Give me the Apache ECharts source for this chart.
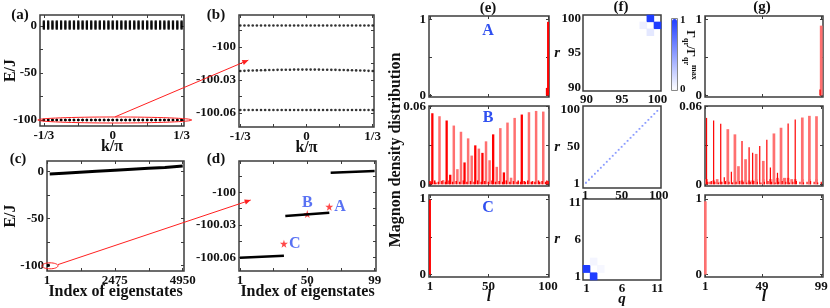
<!DOCTYPE html>
<html><head><meta charset="utf-8">
<script src="https://cdn.jsdelivr.net/npm/echarts@6/dist/echarts.min.js"></script>
<style>html,body{margin:0;padding:0;background:#fff}#c{width:830px;height:308px}</style>
</head><body><div id="c"></div>
<script>
// ---------------- DATA ----------------
const kVals = [-0.3333,-0.3125,-0.2917,-0.2708,-0.2500,-0.2292,-0.2083,-0.1875,-0.1667,-0.1458,-0.1250,-0.1042,-0.0833,-0.0625,-0.0417,-0.0208,0,0.0208,0.0417,0.0625,0.0833,0.1042,0.1250,0.1458,0.1667,0.1875,0.2083,0.2292,0.2500,0.2708,0.2917,0.3125,0.3333];
const contLevels = [-3,-2,-1,0,1,2,3,4,5];
const bandTop = [-99.9806,-99.9806,-99.9806,-99.9806,-99.9806,-99.9806,-99.9806,-99.9806,-99.9806,-99.9806,-99.9806,-99.9806,-99.9806,-99.9806,-99.9806,-99.9806,-99.9806,-99.9806,-99.9806,-99.9806,-99.9806,-99.9806,-99.9806,-99.9806,-99.9806,-99.9806,-99.9806,-99.9806,-99.9806,-99.9806,-99.9806,-99.9806,-99.9806];
const bandMid = [-100.0218,-100.0217,-100.0215,-100.0214,-100.0213,-100.0212,-100.0211,-100.0210,-100.0209,-100.0208,-100.0208,-100.0207,-100.0207,-100.0206,-100.0206,-100.0206,-100.0206,-100.0206,-100.0206,-100.0206,-100.0207,-100.0207,-100.0208,-100.0208,-100.0209,-100.0210,-100.0211,-100.0212,-100.0213,-100.0214,-100.0215,-100.0217,-100.0218];
const bandBot = [-100.0573,-100.0573,-100.0573,-100.0573,-100.0573,-100.0573,-100.0573,-100.0573,-100.0573,-100.0573,-100.0573,-100.0573,-100.0573,-100.0573,-100.0573,-100.0573,-100.0573,-100.0573,-100.0573,-100.0573,-100.0573,-100.0573,-100.0573,-100.0573,-100.0573,-100.0573,-100.0573,-100.0573,-100.0573,-100.0573,-100.0573,-100.0573,-100.0573];

const cIdx = [100, 600, 1200, 1800, 2475, 3100, 3700, 4300, 4950];
const cE   = [-2.8, -1.9, -0.9, 0.1, 1.2, 2.2, 3.2, 4.2, 5.6];
const cBoundIdx = [1, 99];
const cBoundE = [-100.06, -99.98];

const dBotIdx = [1, 33],  dBotE = [-100.0604, -100.0585];
const dMidIdx = [34, 66], dMidE = [-100.0219, -100.0188];
const dTopIdx = [67, 99], dTopE = [-99.9819, -99.9803];
const dStarIdx = [66, 50, 33];
const dStarE = [-100.0133, -100.0200, -100.0475];
const dStarNames = ['A', 'B', 'C'];

// (e) magnon density, l = 1..100
const eARed = [[99,0.10],[100,0.97]];
const eBRed = [[3,0.0549],[15,0.0493],[18,0.0074],[30,0.0169],[39,0.0301],[45,0.0243],[54,0.0386],[63,0.0092],[78,0.0539]];
const eBPink = [[9,0.0526],[12,0.0033],[21,0.0454],[24,0.0117],[27,0.0406],[33,0.0355],[36,0.0222],[42,0.0276],[48,0.0332],[51,0.0186],[57,0.0135],[60,0.0434],[66,0.0477],[69,0.0051],[72,0.0513],[84,0.0557],[90,0.0567],[96,0.0562]];
const eBSmall = [[1,0.0025],[2,0.002],[5,0.003],[6,0.0015],[8,0.002],[11,0.0025],[14,0.002],[17,0.003],[20,0.002],[23,0.0025],[26,0.002],[29,0.003],[32,0.002],[35,0.0025],[38,0.002],[41,0.003],[44,0.002],[47,0.0025],[50,0.002],[53,0.003],[56,0.002],[59,0.0025],[62,0.002],[65,0.003],[68,0.002],[71,0.0025],[74,0.002],[75,0.003],[77,0.002],[80,0.0025],[81,0.002],[83,0.003],[86,0.002],[87,0.0025],[89,0.002],[92,0.003],[93,0.002],[95,0.0025],[98,0.002],[99,0.003],[100,0.0025]];
const eCRed = [[1,0.99]];

// (g) magnon density, l = 1..99
const gARed = [[98,0.08]];
const gAPink = [[99,0.92]];
const gBRed = [[2,0.0513],[8,0.0493],[14,0.0467],[17,0.0054],[23,0.0097],[32,0.0334],[38,0.0286],[41,0.0243],[47,0.0296],[53,0.0345],[56,0.013],[62,0.0089],[71,0.047],[77,0.050]];
const gBPink = [[20,0.0426],[26,0.0386],[29,0.014],[35,0.0194],[44,0.0235],[50,0.0181],[59,0.0393],[65,0.0437],[68,0.0049],[83,0.0516],[89,0.0529],[95,0.0526]];
const gBSmallPink = [[2,0.004],[5,0.002],[8,0.003],[11,0.004],[14,0.002],[20,0.003],[26,0.003],[32,0.003],[38,0.003],[41,0.003],[44,0.004],[50,0.004],[56,0.004],[59,0.004],[62,0.005],[65,0.004],[68,0.005],[71,0.005],[74,0.004],[77,0.004],[83,0.004],[89,0.004],[95,0.004]];
const gBSmallRed = [[3,0.002],[6,0.0025],[9,0.002],[12,0.0015],[15,0.002],[18,0.0025],[21,0.002],[24,0.0015],[27,0.002],[30,0.0025],[33,0.002],[36,0.0015],[39,0.002],[42,0.0025],[45,0.002],[48,0.0015],[51,0.002],[54,0.0025],[57,0.002],[60,0.0015],[63,0.002],[66,0.0025],[69,0.002],[72,0.0015],[75,0.002],[78,0.0025],[81,0.002],[84,0.0015],[87,0.002],[90,0.0025],[93,0.002],[96,0.0015],[99,0.002]];
const gCPink = [[1,0.97]];

// (f) pair correlation Gamma_qr / Gamma_max
const f1Cats = ['90','91','92','93','94','95','96','97','98','99','100'];
const f1Q = [99, 100, 98, 99];
const f1R = [100, 99, 99, 98];
const f1V = [1.0, 1.0, 0.08, 0.12];
const f2Diag = [2,6,10,14,18,22,26,30,34,38,42,46,50,54,58,62,66,70,74,78,82,86,90,94,98];
const f3Cats = ['1','2','3','4','5','6','7','8','9','10','11'];
const f3Q = [1, 2, 2, 3];
const f3R = [2, 1, 3, 2];
const f3V = [1.0, 1.0, 0.05, 0.04];

// ---------------- BUILD ----------------
const FONT = 'Liberation Serif';
const INK = '#3c3c3c';
const RED = '#ff0000', PINK = '#ff7070', BLUE = '#2f4ff0';
const lab = {fontFamily: FONT, fontWeight: 'bold', fontSize: 13, color: '#111'};
const nameStyle = {fontFamily: FONT, fontWeight: 'bold', fontSize: 16, color: '#111'};
const grids = [], xAxes = [], yAxes = [], series = [];

function grid(l, t, w, h) {
  grids.push({left: l, top: t, width: w, height: h, show: true, borderColor: INK, borderWidth: 1.5,
    backgroundColor: '#fff', containLabel: false, outerBoundsMode: 'none'});
  return grids.length - 1;
}
function valAxis(list, gi, pos, min, max, ticks, labels, fmt, extra) {
  const ax = {
    type: 'value', gridIndex: gi, position: pos, min: min, max: max, nameMoveOverlap: false,
    axisLine: {show: false, onZero: false},
    axisTick: {show: ticks.length > 0, inside: true, length: 3, customValues: ticks, lineStyle: {color: INK, width: 1}},
    axisLabel: Object.assign({show: labels.length > 0, customValues: labels, formatter: fmt, margin: 3}, lab),
    splitLine: {show: false}
  };
  Object.assign(ax, extra || {});
  list.push(ax);
  return list.length - 1;
}
function mirror(list, gi, pos, min, max, ticks) {
  return valAxis(list, gi, pos, min, max, ticks, [], null);
}
const fmtK = v => Math.abs(v) < 1e-9 ? '0' : (v < 0 ? '-1/3' : '1/3');
const fmtInt = v => String(Math.round(v));
const fmtE = v => Math.abs(v + 100) < 1e-9 ? '-100' : v.toFixed(2);
const fmt06 = v => v === 0 ? '0' : '0.06';
const kTicks = [-1/3, -1/6, 0, 1/6, 1/3], kLabels = [-1/3, 0, 1/3];
const eTicks = [-100.06, -100.045, -100.03, -100.015, -100, -99.985], eLabels = [-100.06, -100.03, -100];
const bigTicks = [-100, -75, -50, -25, 0];

// (a)
const ga = grid(40, 15, 144, 111);
const xa = valAxis(xAxes, ga, 'bottom', -0.352, 0.345, kTicks, kLabels, fmtK,
  {name: 'k/π', nameLocation: 'middle', nameGap: 13, nameTextStyle: nameStyle});
const ya = valAxis(yAxes, ga, 'left', -106.4, 11.7, bigTicks, [-100, -50, 0], fmtInt,
  {name: 'E/J', nameLocation: 'middle', nameGap: 21, nameTextStyle: nameStyle});
mirror(xAxes, ga, 'top', -0.352, 0.345, kTicks);
mirror(yAxes, ga, 'right', -106.4, 11.7, bigTicks);
const contData = [];
kVals.forEach(k => contLevels.forEach(e => contData.push([k, e])));
series.push({type: 'scatter', xAxisIndex: xa, yAxisIndex: ya, data: contData, symbol: 'rect', symbolSize: [2.2, 2], itemStyle: {color: '#000'}, silent: true});
[bandTop, bandMid, bandBot].forEach(b => series.push({type: 'scatter', xAxisIndex: xa, yAxisIndex: ya, data: kVals.map((k, i) => [k, b[i]]), symbolSize: 2.6, itemStyle: {color: '#000'}, silent: true}));

// (b)
const gb = grid(239, 15, 135, 112);
const xb = valAxis(xAxes, gb, 'bottom', -0.34, 0.34, kTicks, kLabels, fmtK,
  {name: 'k/π', nameLocation: 'middle', nameGap: 13, nameTextStyle: nameStyle});
const yb = valAxis(yAxes, gb, 'left', -100.0727, -99.971, eTicks, eLabels, fmtE);
mirror(xAxes, gb, 'top', -0.34, 0.34, kTicks);
mirror(yAxes, gb, 'right', -100.0727, -99.971, eTicks);
[bandTop, bandMid, bandBot].forEach(b => series.push({type: 'scatter', xAxisIndex: xb, yAxisIndex: yb, data: kVals.map((k, i) => [k, b[i]]), symbolSize: 2.6, itemStyle: {color: '#000'}, silent: true}));

// (c)
const gc = grid(47, 161, 137, 110);
const xc = valAxis(xAxes, gc, 'bottom', 1, 4997, [1, 1238, 2475, 3713, 4950], [1, 2475, 4950], fmtInt,
  {name: 'Index of eigenstates', nameLocation: 'middle', nameGap: 13, nameTextStyle: nameStyle});
const yc = valAxis(yAxes, gc, 'left', -106, 11, bigTicks, [-100, -50, 0], fmtInt,
  {name: 'E/J', nameLocation: 'middle', nameGap: 28, nameTextStyle: nameStyle});
mirror(xAxes, gc, 'top', 1, 4997, [1, 1238, 2475, 3713, 4950]);
mirror(yAxes, gc, 'right', -106, 11, bigTicks);
series.push({type: 'line', xAxisIndex: xc, yAxisIndex: yc, data: cIdx.map((x, i) => [x, cE[i]]), showSymbol: false, lineStyle: {color: '#000', width: 3}, silent: true});
series.push({type: 'line', xAxisIndex: xc, yAxisIndex: yc, data: cBoundIdx.map((x, i) => [x, cBoundE[i]]), showSymbol: false, lineStyle: {color: '#000', width: 3}, silent: true});

// (d)
const gd = grid(239, 161, 137, 110);
const xd = valAxis(xAxes, gd, 'bottom', 0.3, 100, [1, 25, 50, 75, 99], [1, 50, 99], fmtInt,
  {name: 'Index of eigenstates', nameLocation: 'middle', nameGap: 13, nameTextStyle: nameStyle});
const yd = valAxis(yAxes, gd, 'left', -100.0727, -99.971, eTicks, eLabels, fmtE);
mirror(xAxes, gd, 'top', 0.3, 100, [1, 25, 50, 75, 99]);
mirror(yAxes, gd, 'right', -100.0727, -99.971, eTicks);
[[dBotIdx, dBotE], [dMidIdx, dMidE], [dTopIdx, dTopE]].forEach(([xs, ys]) =>
  series.push({type: 'line', xAxisIndex: xd, yAxisIndex: yd, data: xs.map((x, i) => [x, ys[i]]), showSymbol: false, lineStyle: {color: '#000', width: 2.5}, silent: true}));
const STAR = 'path://M50,0 L61,35 L98,35 L68,57 L79,91 L50,70 L21,91 L32,57 L2,35 L39,35 Z';
const starLabel = {show: true, formatter: '{b}', fontFamily: FONT, fontWeight: 'bold', fontSize: 16, color: BLUE};
series.push({type: 'scatter', xAxisIndex: xd, yAxisIndex: yd, symbol: STAR, symbolSize: 8, itemStyle: {color: '#ff1a1a'}, silent: true,
  data: dStarIdx.map((x, i) => ({name: dStarNames[i], value: [x, dStarE[i]],
    label: Object.assign({}, starLabel, i === 1 ? {position: 'top', distance: -1} : {position: 'right', distance: 1})}))});

// (e) and (g) bar panels: bars drawn as thin rectangles via custom series on the panel's own axes
function barSeries(xi, yi, data, w, color) {
  series.push({type: 'custom', xAxisIndex: xi, yAxisIndex: yi, silent: true, data: data, z: 3, clip: false,
    renderItem: (params, api) => {
      const top = api.coord([api.value(0), api.value(1)]);
      const base = api.coord([api.value(0), 0]);
      return {type: 'rect', shape: {x: top[0] - w / 2, y: top[1], width: w, height: base[1] - top[1]}, style: {fill: color}};
    }});
}
function barPanel(left, width, xmin, xmax, xTicks, top, height, ymin, ymax, yTicks, yLabels, yFmt, bars, showX) {
  const g = grid(left, top, width, height);
  const xi = valAxis(xAxes, g, 'bottom', xmin, xmax, xTicks, showX ? xTicks : [], fmtInt,
    showX ? {name: 'l', nameLocation: 'middle', nameGap: 12, nameTextStyle: Object.assign({}, nameStyle, {fontStyle: 'italic'})} : {});
  const yi = valAxis(yAxes, g, 'left', ymin, ymax, yTicks, yLabels, yFmt);
  mirror(xAxes, g, 'top', xmin, xmax, xTicks);
  mirror(yAxes, g, 'right', ymin, ymax, yTicks);
  bars.forEach(b => barSeries(xi, yi, b.data, b.w, b.c));
}
const fmtTop = v => v === 0 ? '0' : '1';
barPanel(429, 120, 0.2, 100.8, [1, 50, 100], 16, 81, -0.02, 1.047, [0, 0.5, 1], [0, 1], fmtTop,
  [{data: eARed, w: 2, c: RED}], false);
barPanel(429, 120, 0.2, 100.8, [1, 50, 100], 106, 80, -0.0013, 0.0605, [0, 0.03, 0.06], [0, 0.06], fmt06,
  [{data: eBPink, w: 2.5, c: PINK}, {data: eBRed, w: 2.3, c: RED}, {data: eBSmall, w: 1.5, c: RED}], false);
barPanel(429, 120, 0.2, 100.8, [1, 50, 100], 195, 82, -0.032, 1.053, [0, 0.5, 1], [0, 1], fmtTop,
  [{data: eCRed, w: 2, c: RED}], true);

barPanel(705, 118, 0.7, 100.5, [1, 49, 99], 16, 81, -0.02, 1.047, [0, 0.5, 1], [0, 1], fmtTop,
  [{data: gAPink, w: 2.8, c: PINK}, {data: gARed, w: 1.3, c: RED}], false);
barPanel(705, 118, 0.7, 100.5, [1, 49, 99], 106, 80, -0.0013, 0.0605, [0, 0.03, 0.06], [0, 0.06], fmt06,
  [{data: gBPink, w: 2.7, c: PINK}, {data: gBSmallPink, w: 2.7, c: PINK}, {data: gBRed, w: 1.2, c: RED}, {data: gBSmallRed, w: 1.2, c: RED}], false);
barPanel(705, 118, 0.7, 100.5, [1, 49, 99], 195, 82, -0.032, 1.053, [0, 0.5, 1], [0, 1], fmtTop,
  [{data: gCPink, w: 2.6, c: PINK}], true);

// (f) heatmaps
function catAxis(list, gi, pos, cats, extra) {
  const ax = {type: 'category', gridIndex: gi, position: pos, data: cats, nameMoveOverlap: false,
    axisLine: {show: false, onZero: false}, axisTick: {show: false},
    axisLabel: Object.assign({interval: 4, margin: 2}, lab), splitLine: {show: false}};
  Object.assign(ax, extra || {});
  list.push(ax);
  return list.length - 1;
}
const rName = {name: 'r', nameLocation: 'middle', nameGap: 23, nameRotate: 0, nameTextStyle: Object.assign({}, nameStyle, {fontStyle: 'italic', fontSize: 15})};
const gf1 = grid(583, 15, 78, 76);
const xf1 = catAxis(xAxes, gf1, 'bottom', f1Cats);
const yf1 = catAxis(yAxes, gf1, 'left', f1Cats, rName);
const hm1 = series.length;
series.push({type: 'heatmap', xAxisIndex: xf1, yAxisIndex: yf1, silent: true,
  data: f1Q.map((q, i) => [f1Cats.indexOf(String(q)), f1Cats.indexOf(String(f1R[i])), f1V[i]])});

const gf2 = grid(583, 106, 78, 82);
const xf2 = valAxis(xAxes, gf2, 'bottom', -2, 103, [], [1, 50, 100], fmtInt, {axisLabel: Object.assign({customValues: [1, 50, 100], formatter: fmtInt, margin: 1}, lab)});
const yf2 = valAxis(yAxes, gf2, 'left', -5, 104.5, [], [1, 50, 100], fmtInt, rName);
series.push({type: 'scatter', xAxisIndex: xf2, yAxisIndex: yf2, symbol: 'rect', symbolSize: 1.8, itemStyle: {color: '#6d82ff'}, silent: true,
  data: f2Diag.map(v => [v, v])});

const gf3 = grid(583, 199, 78, 81);
const xf3 = catAxis(xAxes, gf3, 'bottom', f3Cats, {name: 'q', nameLocation: 'middle', nameGap: 12, nameTextStyle: Object.assign({}, nameStyle, {fontStyle: 'italic', fontSize: 15})});
const yf3 = catAxis(yAxes, gf3, 'left', f3Cats, rName);
const hm3 = series.length;
series.push({type: 'heatmap', xAxisIndex: xf3, yAxisIndex: yf3, silent: true,
  data: f3Q.map((q, i) => [f3Cats.indexOf(String(q)), f3Cats.indexOf(String(f3R[i])), f3V[i]])});

const option = {
  animation: false,
  backgroundColor: '#fff',
  grid: grids, xAxis: xAxes, yAxis: yAxes, series: series,
  visualMap: [{type: 'continuous', min: 0, max: 1, seriesIndex: [hm1, hm3], calculable: false, show: true,
    orient: 'vertical', left: 672, top: 19, itemWidth: 5, itemHeight: 71, padding: 0, text: null, showLabel: false,
    inRange: {color: ['#ffffff', '#1f3dff']}}]
};
const chart = echarts.init(document.getElementById('c'), null, {renderer: 'canvas'});
chart.setOption(option);

// ---------------- ANNOTATIONS ----------------
const P = (xi, yi, pt) => chart.convertToPixel({xAxisIndex: xi, yAxisIndex: yi}, pt);
function arrow(p0, p1) {
  const ang = Math.atan2(p1[1] - p0[1], p1[0] - p0[0]);
  const L = 6, W = 2.6;
  const bx = p1[0] - L * Math.cos(ang), by = p1[1] - L * Math.sin(ang);
  const nx = -Math.sin(ang) * W, ny = Math.cos(ang) * W;
  return [
    {type: 'line', shape: {x1: p0[0], y1: p0[1], x2: p1[0], y2: p1[1]}, style: {stroke: '#ff2020', lineWidth: 1}, z: 100},
    {type: 'polygon', shape: {points: [[p1[0], p1[1]], [bx + nx, by + ny], [bx - nx, by - ny]]}, style: {fill: '#ff2020'}, z: 100}
  ];
}
const aCtr = P(xa, ya, [0.01, -100]);
const aStart = P(xa, ya, [0.01, -96.8]);
const bTip = P(xb, yb, [-0.293, -100.012]);
const cCtr = P(xc, yc, [110, -100.5]);
const cStart = P(xc, yc, [401, -99.2]);
const dTip = P(xd, yd, [8.8, -100.0071]);
const T = (x, y, text, size, extra) => Object.assign({type: 'text', x: x, y: y, z: 120,
  style: {text: text, font: 'bold ' + size + 'px "' + FONT + '"', fill: '#111', align: 'center', verticalAlign: 'middle'}}, extra || {});
const gfx = [
  {type: 'ellipse', shape: {cx: aCtr[0], cy: aCtr[1], rx: 77, ry: 3}, style: {fill: 'none', stroke: '#ff2020', lineWidth: 1}, z: 100},
  {type: 'ellipse', shape: {cx: cCtr[0], cy: cCtr[1], rx: 8, ry: 3}, style: {fill: 'none', stroke: '#ff2020', lineWidth: 1}, z: 100},
  ...arrow(aStart, bTip),
  ...arrow(cStart, dTip),
  T(20, 15, '(a)', 15), T(216, 15, '(b)', 15), T(18, 159, '(c)', 15), T(216, 159, '(d)', 15),
  T(488, 8, '(e)', 15), T(621, 7, '(f)', 15), T(762, 7, '(g)', 15),
  T(396, 150, 'Magnon density distribution', 16, {rotation: Math.PI / 2}),
  T(488, 31, 'A', 16), T(488, 118, 'B', 16), T(488, 208, 'C', 16),
  T(680, 20, '1', 11, {style: {text: '1', font: 'bold 11px "' + FONT + '"', fill: '#111', align: 'left', verticalAlign: 'middle'}}),
  T(680, 89, '0', 11, {style: {text: '0', font: 'bold 11px "' + FONT + '"', fill: '#111', align: 'left', verticalAlign: 'middle'}}),
  {type: 'rect', shape: {x: 671.5, y: 18.5, width: 6, height: 72}, style: {fill: 'none', stroke: '#888', lineWidth: 1}, z: 110},
  {type: 'text', x: 690, y: 55, rotation: -Math.PI / 2, z: 120,
    style: {text: '{g|Γ}{s|qr}{g|/Γ}{s|qr}{p|max}', align: 'center', verticalAlign: 'middle',
      rich: {g: {fontFamily: FONT, fontWeight: 'bold', fontSize: 12, fill: '#111', lineHeight: 16, verticalAlign: 'middle'},
             s: {fontFamily: FONT, fontWeight: 'bold', fontSize: 8, fill: '#111', lineHeight: 16, verticalAlign: 'bottom'},
             p: {fontFamily: FONT, fontWeight: 'bold', fontSize: 8, fill: '#111', lineHeight: 16, verticalAlign: 'top'}}}}
];
gfx.forEach(g => { if (g.type === 'text' && ['A','B','C'].includes(g.style.text)) g.style.fill = BLUE; });
chart.setOption({graphic: gfx});
</script>
</body></html>
